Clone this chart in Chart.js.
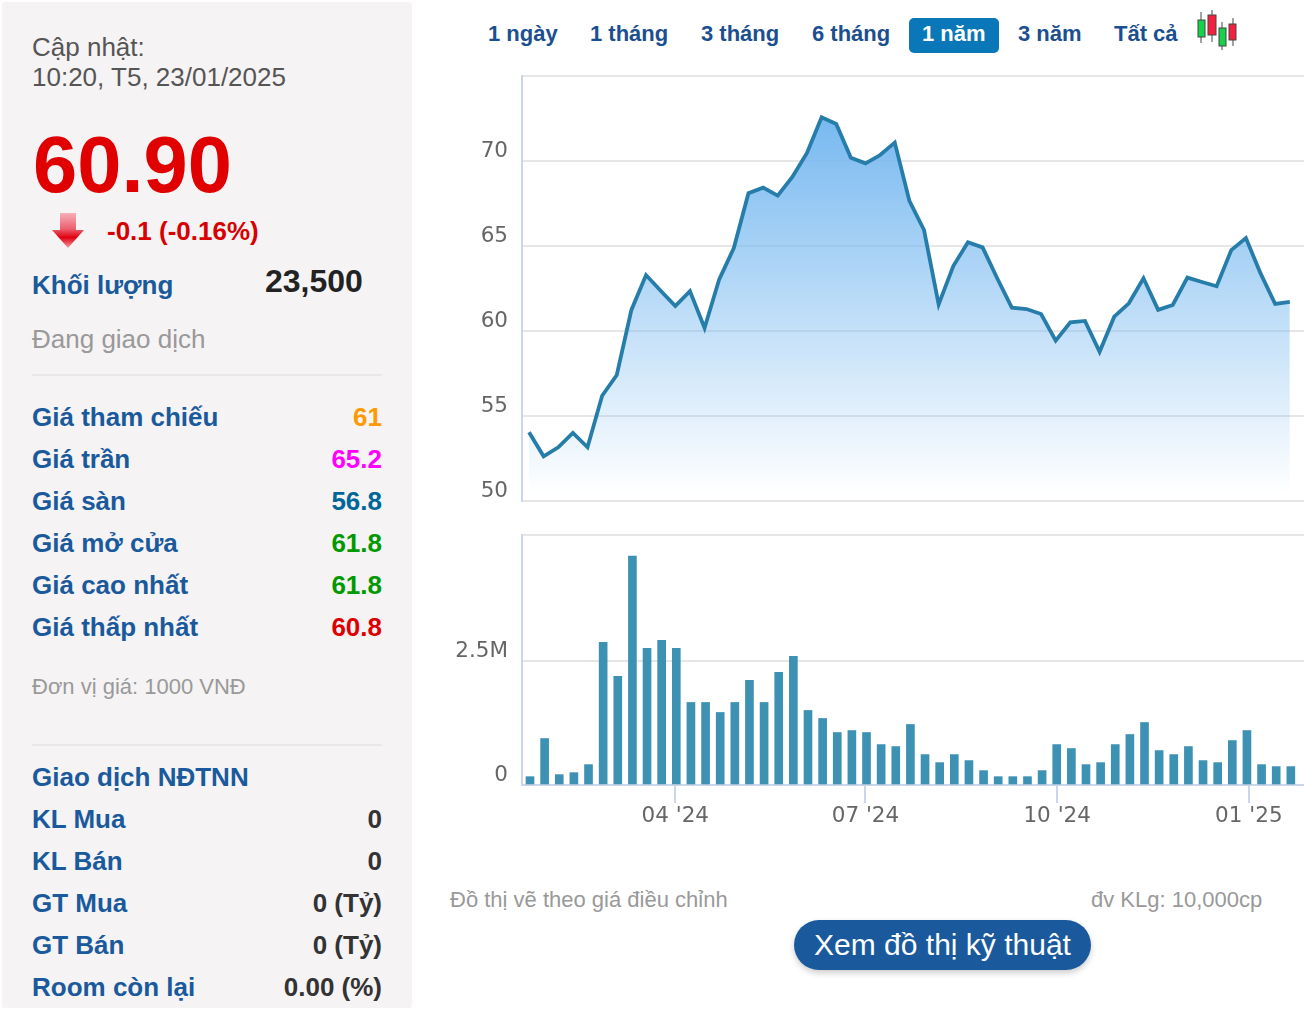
<!DOCTYPE html>
<html lang="vi">
<head>
<meta charset="utf-8">
<title>Biểu đồ giá</title>
<script src="https://cdn.jsdelivr.net/npm/chart.js@4"></script>
<style>
html, body { margin: 0; padding: 0; background: #fff; overflow: hidden; }
body { width: 1316px; height: 1016px; position: relative; font-family: "Liberation Sans", Arial, sans-serif; }
#panel { position: absolute; left: 2px; top: 2px; width: 410px; height: 1006px; background: #f5f3f4; border-radius: 3px; }
.t { position: absolute; line-height: 32px; height: 32px; white-space: nowrap; }
.r { right: 934px; text-align: right; }
.lbl { left: 32px; font-size: 26px; font-weight: bold; color: #1a5a9c; }
.val { font-size: 26px; font-weight: bold; }
.tab { font-size: 22px; font-weight: bold; color: #1b4f8f; }
.rule { position: absolute; left: 32px; width: 350px; height: 2px; background: #e9e7e8; }
.note { font-size: 22px; color: #999; }
canvas { position: absolute; }
#wrap1 { position: absolute; left: 440px; top: 66px; width: 864px; height: 445px; }
#wrap2 { position: absolute; left: 440px; top: 525px; width: 864px; height: 305px; }
#btn { position: absolute; left: 794px; top: 920px; width: 297px; height: 50px; border-radius: 25px; background: #1a5a9c; box-shadow: 0 3px 6px rgba(0,0,0,.2); color: #fff; font-size: 30px; line-height: 50px; text-align: center; white-space: nowrap; }
#active { position: absolute; left: 909px; top: 18px; width: 90px; height: 35px; border-radius: 5px; background: #0a77b8; }
</style>
</head>
<body>
<div id="panel"></div>

<div class="t" style="left:32px;top:31px;font-size:26px;color:#555">Cập nhật:</div>
<div class="t" style="left:32px;top:61px;font-size:26px;color:#555">10:20, T5, 23/01/2025</div>
<div class="t" style="left:33px;top:125px;height:80px;line-height:80px;font-size:79.5px;font-weight:bold;color:#e00000">60.90</div>
<svg style="position:absolute;left:50px;top:210px" width="36" height="40" viewBox="0 0 36 40">
  <defs><linearGradient id="ar" x1="0" y1="0" x2="0" y2="1"><stop offset="0" stop-color="#f7b0b6"/><stop offset=".45" stop-color="#ec6070"/><stop offset=".7" stop-color="#e00010"/><stop offset="1" stop-color="#f2a0a6"/></linearGradient></defs>
  <polygon points="10,3 26,3 26,20 34,20 18,38 2,20 10,20" fill="url(#ar)"/>
</svg>
<div class="t" style="left:107px;top:215px;font-size:26px;font-weight:bold;color:#d80000">-0.1 (-0.16%)</div>
<div class="t lbl" style="top:269px">Khối lượng</div>
<div class="t" style="left:265px;top:265px;font-size:32px;font-weight:bold;color:#222">23,500</div>
<div class="t" style="left:32px;top:323px;font-size:26px;color:#999">Đang giao dịch</div>
<div class="rule" style="top:374px"></div>

<div class="t lbl" style="top:401px">Giá tham chiếu</div><div class="t val r" style="top:401px;color:#ff9900">61</div>
<div class="t lbl" style="top:443px">Giá trần</div><div class="t val r" style="top:443px;color:#ff00ff">65.2</div>
<div class="t lbl" style="top:485px">Giá sàn</div><div class="t val r" style="top:485px;color:#006699">56.8</div>
<div class="t lbl" style="top:527px">Giá mở cửa</div><div class="t val r" style="top:527px;color:#009900">61.8</div>
<div class="t lbl" style="top:569px">Giá cao nhất</div><div class="t val r" style="top:569px;color:#009900">61.8</div>
<div class="t lbl" style="top:611px">Giá thấp nhất</div><div class="t val r" style="top:611px;color:#dd0000">60.8</div>
<div class="t" style="left:32px;top:671px;font-size:22px;color:#999">Đơn vị giá: 1000 VNĐ</div>
<div class="rule" style="top:744px"></div>

<div class="t lbl" style="top:761px">Giao dịch NĐTNN</div>
<div class="t lbl" style="top:803px">KL Mua</div><div class="t val r" style="top:803px;color:#333">0</div>
<div class="t lbl" style="top:845px">KL Bán</div><div class="t val r" style="top:845px;color:#333">0</div>
<div class="t lbl" style="top:887px">GT Mua</div><div class="t val r" style="top:887px;color:#333">0 (Tỷ)</div>
<div class="t lbl" style="top:929px">GT Bán</div><div class="t val r" style="top:929px;color:#333">0 (Tỷ)</div>
<div class="t lbl" style="top:971px">Room còn lại</div><div class="t val r" style="top:971px;color:#333">0.00 (%)</div>

<div id="active"></div>
<div class="t tab" style="left:488px;top:18px">1 ngày</div>
<div class="t tab" style="left:590px;top:18px">1 tháng</div>
<div class="t tab" style="left:701px;top:18px">3 tháng</div>
<div class="t tab" style="left:812px;top:18px">6 tháng</div>
<div class="t tab" style="left:922px;top:18px;color:#fff">1 năm</div>
<div class="t tab" style="left:1018px;top:18px">3 năm</div>
<div class="t tab" style="left:1114px;top:18px">Tất cả</div>
<svg style="position:absolute;left:1195px;top:9px" width="44" height="42" viewBox="0 0 44 42">
  <g stroke="#444" stroke-width="1">
    <line x1="6" y1="3" x2="6" y2="34"/><rect x="3" y="11" width="7" height="17" fill="#16d24a"/>
    <line x1="17" y1="1" x2="17" y2="33"/><rect x="13" y="6" width="8" height="20" fill="#f5203f"/>
    <line x1="27" y1="13" x2="27" y2="41"/><rect x="24" y="19" width="7" height="18" fill="#16d24a"/>
    <line x1="38" y1="9" x2="38" y2="37"/><rect x="34" y="15" width="7" height="16" fill="#f5203f"/>
  </g>
</svg>

<div id="wrap1"><canvas id="price-chart"></canvas></div>
<div id="wrap2"><canvas id="volume-chart"></canvas></div>

<div class="t note" style="left:450px;top:884px">Đồ thị vẽ theo giá điều chỉnh</div>
<div class="t note" style="left:1091px;top:884px">đv KLg: 10,000cp</div>
<div id="btn">Xem đồ thị kỹ thuật</div>

<script>
// Weekly closes
var priceValues = [54.04, 52.63, 53.16, 54.0, 53.16, 56.19, 57.41, 61.24, 63.29, 62.37,
    61.47, 62.35, 60.18, 63.04, 64.88, 68.1, 68.43, 67.96, 69.06, 70.47,
    72.57, 72.18, 70.19, 69.86, 70.35, 71.08, 67.65, 65.94, 61.57, 63.82,
    65.22, 64.92, 63.1, 61.37, 61.29, 61.0, 59.43, 60.51, 60.59, 58.78,
    60.84, 61.63, 63.1, 61.24, 61.53, 63.14, 62.88, 62.63, 64.76, 65.47,
    63.39, 61.59, 61.71];

// Weekly volume, shares
var volumeValues = [168000, 937000, 209000, 249000, 411000, 2877000, 2190000, 4616000, 2756000, 2918000,
    2756000, 1664000, 1664000, 1462000, 1664000, 2109000, 1664000, 2271000, 2594000, 1503000,
    1341000, 1058000, 1098000, 1058000, 815000, 775000, 1220000, 613000, 451000, 613000,
    492000, 290000, 168000, 168000, 168000, 290000, 815000, 735000, 411000, 451000,
    815000, 1018000, 1260000, 694000, 613000, 775000, 492000, 451000, 896000, 1098000,
    411000, 371000, 371000];

var priceTicks = [50, 55, 60, 65, 70];
var volumeTicks = [0, 2500000, 5040000];
var volumeTickLabels = ["0", "2.5M", ""];
var monthLabels = ["04 '24", "07 '24", "10 '24", "01 '25"];
var monthWeeks = [9.93, 22.93, 36.03, 49.13];

var gridColor = "#e6e6e6";
var axisColor = "#ccd6eb";
var xFont = { family: "'DejaVu Sans'", size: 21.5 };
var yFont = { family: "'DejaVu Sans'", size: 21.5, lineHeight: 0.92 };

function toPoints(values) {
    return values.map(function (v, i) { return { x: i, y: v }; });
}

// an empty second line lifts the label above its grid line
function raised(text) {
    return [text, ""];
}

// y axis takes a fixed width, and tall labels must not push the plot in
function fitY(s) {
    s.width = 82;
    s.paddingTop = 0;
    s.paddingBottom = 0;
}

Chart.defaults.animation = false;
Chart.defaults.responsive = true;
Chart.defaults.maintainAspectRatio = false;

// Price Chart
var ctx1 = document.getElementById("price-chart").getContext("2d");
var priceChart = new Chart(ctx1, {
    type: "line",
    data: {
        datasets: [{
            data: toPoints(priceValues),
            borderColor: "#267daa",
            borderWidth: 3.8,
            pointRadius: 0,
            tension: 0,
            fill: "start",
            backgroundColor: function (c) {
                var area = c.chart.chartArea;
                if (!area) return "transparent";
                var top = c.chart.scales.y.getPixelForValue(Math.max.apply(null, priceValues));
                var g = c.chart.ctx.createLinearGradient(0, top, 0, area.bottom - 6);
                g.addColorStop(0, "rgba(120, 185, 240, 1)");
                g.addColorStop(1, "rgba(120, 185, 240, 0)");
                return g;
            }
        }]
    },
    options: {
        layout: { padding: { top: 10, bottom: 10, left: 0, right: 0 } },
        plugins: { legend: { display: false }, tooltip: { enabled: false } },
        scales: {
            x: { type: "linear", min: -0.478, max: 52.97, display: false },
            y: {
                min: 50,
                max: 75,
                afterFit: fitY,
                border: { color: axisColor, width: 2 },
                grid: { color: gridColor, lineWidth: 2, drawTicks: false },
                ticks: {
                    stepSize: 5,
                    padding: 14,
                    color: "#666",
                    font: yFont,
                    callback: function (v) { return priceTicks.indexOf(v) >= 0 ? raised(String(v)) : ""; }
                }
            }
        }
    }
});

// Volume Chart
var ctx2 = document.getElementById("volume-chart").getContext("2d");
var volumeChart = new Chart(ctx2, {
    type: "bar",
    data: {
        datasets: [{
            data: toPoints(volumeValues),
            backgroundColor: "#3d91b3",
            barThickness: 8
        }]
    },
    options: {
        layout: { padding: { top: 10, bottom: 0, left: 0, right: 0 } },
        plugins: { legend: { display: false }, tooltip: { enabled: false } },
        scales: {
            x: {
                type: "linear",
                offset: false,
                min: -0.546,
                max: 52.9,
                afterFit: function (s) {
                    s.height = 45;
                    s.paddingLeft = 0;
                    s.paddingRight = 0;
                },
                afterBuildTicks: function (s) {
                    s.ticks = monthWeeks.map(function (w) { return { value: w }; });
                },
                border: { color: axisColor, width: 2 },
                grid: { offset: false, drawOnChartArea: false, color: axisColor, lineWidth: 2, tickLength: 18 },
                ticks: {
                    autoSkip: false,
                    maxRotation: 0,
                    padding: 1,
                    color: "#666",
                    font: xFont,
                    callback: function (v) { return monthLabels[monthWeeks.indexOf(v)]; }
                }
            },
            y: {
                min: 0,
                max: volumeTicks[2],
                afterFit: fitY,
                afterBuildTicks: function (s) {
                    s.ticks = volumeTicks.map(function (v) { return { value: v }; });
                },
                border: { color: axisColor, width: 2 },
                grid: { color: gridColor, lineWidth: 2, drawTicks: false },
                ticks: {
                    padding: 14,
                    color: "#666",
                    font: yFont,
                    callback: function (v) {
                        var label = volumeTickLabels[volumeTicks.indexOf(v)];
                        return label ? raised(label) : "";
                    }
                }
            }
        }
    }
});
</script>
</body>
</html>
